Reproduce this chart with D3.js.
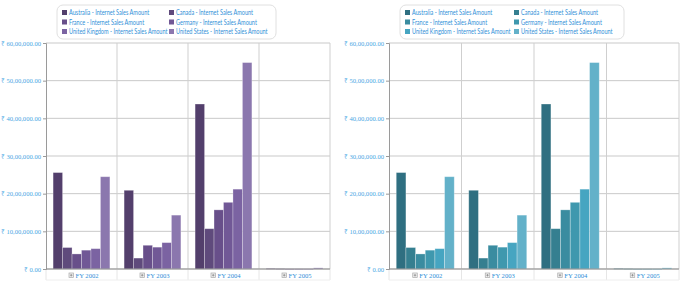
<!DOCTYPE html>
<html>
<head>
<meta charset="utf-8">
<script src="https://cdn.jsdelivr.net/npm/d3@7"></script>
<style>
  body { margin: 0; background: #fff; }
  svg { display: block; }
</style>
</head>
<body>
<svg id="mainsvg" width="700" height="288"></svg>
<script>
// data (values in millions of rupees)
const years = ["FY 2002", "FY 2003", "FY 2004", "FY 2005"];
const countries = ["Australia", "Canada", "France", "Germany", "United Kingdom", "United States"];
const australia = [2.56, 2.09, 4.38, 0.015];
const canada = [0.57, 0.29, 1.07, 0.01];
const france = [0.40, 0.63, 1.57, 0.005];
const germany = [0.50, 0.58, 1.77, 0.005];
const unitedKingdom = [0.54, 0.70, 2.12, 0.005];
const unitedStates = [2.45, 1.43, 5.48, 0.03];
const tickValues = [0, 1, 2, 3, 4, 5, 6];
const tickLabels = ["₹ 0.00", "₹ 10,00,000.00", "₹ 20,00,000.00", "₹ 30,00,000.00",
  "₹ 40,00,000.00", "₹ 50,00,000.00", "₹ 60,00,000.00"];

const series = [australia, canada, france, germany, unitedKingdom, unitedStates];
const rows = [];
years.forEach((y, i) => {
  countries.forEach((c, j) => rows.push({ year: y, country: c, value: series[j][i] }));
});

const purple = ["#533f6c", "#5f4a7c", "#684f8a", "#715896", "#7b63a2", "#8b77ae"];
const teal = ["#2f6f81", "#357f90", "#3a8ca0", "#3f98ae", "#46a5c1", "#63b1c9"];

const svg = d3.select("#mainsvg");
const textBlue = "#2f8fd8";

function drawChart(opt) {
  const g = svg.append("g");

  // 图例
  const lg = g.append("g").attr("transform", `translate(${opt.legendX},5)`);
  lg.append("rect")
    .attr("width", opt.legendW).attr("height", 34)
    .attr("rx", 6)
    .attr("fill", "#fff")
    .attr("stroke", "#e0e0e0");
  countries.forEach((c, i) => {
    const col = i % 2, row = Math.floor(i / 2);
    const item = lg.append("g")
      .attr("transform", `translate(${5 + col * opt.legendCol},${8 + row * 9.5})`);
    item.append("rect")
      .attr("x", 0).attr("y", -3)
      .attr("width", 5).attr("height", 5)
      .attr("fill", opt.colors[i]);
    const t = item.append("text")
      .attr("x", 7).attr("y", 0)
      .attr("dy", "0.35em")
      .attr("font-family", "Lato, sans-serif")
      .attr("font-size", 6.6)
      .attr("fill", textBlue)
      .text(c + " - Internet Sales Amount");
    // 压窄文字, 接近原图字宽
    const w = t.node().getComputedTextLength();
    t.attr("textLength", w * opt.squeeze).attr("lengthAdjust", "spacingAndGlyphs");
  });

  const x = d3.scaleBand().domain(years).range([opt.x0, opt.x1]);
  const y = d3.scaleLinear().domain([0, 6]).range([opt.y0, opt.y1]);
  const pad = x.bandwidth() * 0.1;
  const xs = d3.scaleBand().domain(countries).range([pad, x.bandwidth() - pad]);
  const color = d3.scaleOrdinal().domain(countries).range(opt.colors);

  // 网格线
  g.append("g")
    .selectAll("line")
    .data(tickValues)
    .join("line")
    .attr("x1", opt.x0).attr("x2", opt.x1)
    .attr("y1", d => y(d)).attr("y2", d => y(d))
    .attr("stroke", "#c9c9c9");

  g.append("g")
    .selectAll("line")
    .data(years)
    .join("line")
    .attr("x1", d => x(d) + x.bandwidth()).attr("x2", d => x(d) + x.bandwidth())
    .attr("y1", opt.y1).attr("y2", opt.y0)
    .attr("stroke", "#cfcfcf");

  // x 标签行
  g.append("g")
    .selectAll("line")
    .data(years)
    .join("line")
    .attr("x1", d => x(d) + x.bandwidth()).attr("x2", d => x(d) + x.bandwidth())
    .attr("y1", opt.y0).attr("y2", opt.y0 + 11)
    .attr("stroke", "#e6e6e6");
  g.append("line")
    .attr("x1", opt.x0).attr("x2", opt.x0)
    .attr("y1", opt.y0).attr("y2", opt.y0 + 11)
    .attr("stroke", "#e6e6e6");
  g.append("line")
    .attr("x1", opt.x0).attr("x2", opt.x1)
    .attr("y1", opt.y0 + 11).attr("y2", opt.y0 + 11)
    .attr("stroke", "#eeeeee");

  // 柱子
  g.append("g")
    .selectAll("rect")
    .data(rows)
    .join("rect")
    .attr("x", d => x(d.year) + xs(d.country))
    .attr("width", xs.bandwidth())
    .attr("y", d => y(d.value))
    .attr("height", d => Math.max(0.8, opt.y0 - y(d.value)))
    .attr("fill", d => color(d.country))
    .attr("stroke", "#ffffff")
    .attr("stroke-opacity", 0.35)
    .attr("stroke-width", 0.8);

  // 坐标轴
  const yAxis = d3.axisLeft(y)
    .tickValues(tickValues)
    .tickSize(3)
    .tickPadding(2)
    .tickFormat((d, i) => tickLabels[i]);
  const ya = g.append("g")
    .attr("transform", `translate(${opt.x0},0)`)
    .call(yAxis);
  ya.select(".domain").attr("stroke", "#9a9a9a");
  ya.selectAll(".tick line").attr("stroke", "#9a9a9a");
  ya.selectAll("text")
    .attr("font-family", "Liberation Serif, serif")
    .attr("font-size", 6.6)
    .attr("fill", "#4aa8e4");

  g.append("line")
    .attr("x1", opt.x0).attr("x2", opt.x1)
    .attr("y1", opt.y0).attr("y2", opt.y0)
    .attr("stroke", "#8f8f8f");

  const lab = g.append("g")
    .selectAll("g")
    .data(years)
    .join("g")
    .attr("transform", d => `translate(${x(d) + x.bandwidth() / 2},${opt.y0 + 6})`);
  lab.append("rect")
    .attr("x", -12.5).attr("y", -2)
    .attr("width", 4.5).attr("height", 4.5)
    .attr("fill", "#eeeeee")
    .attr("stroke", "#aaa")
    .attr("stroke-width", 0.7);
  lab.append("path")
    .attr("d", "M-11.5,0.25H-9M-10.25,-1V1.5")
    .attr("stroke", "#777")
    .attr("stroke-width", 0.6);
  lab.append("text")
    .attr("x", -6).attr("y", 0.5)
    .attr("dy", "0.35em")
    .attr("font-family", "Liberation Serif, serif")
    .attr("font-size", 6.6)
    .attr("fill", textBlue)
    .text(d => d);
}

drawChart({ x0: 46, x1: 330, y0: 269, y1: 43, colors: purple, legendX: 57, legendW: 219, legendCol: 107, squeeze: 0.84 });
drawChart({ x0: 389, x1: 679, y0: 269, y1: 43, colors: teal, legendX: 400, legendW: 224, legendCol: 109, squeeze: 0.84 });
</script>
</body>
</html>
